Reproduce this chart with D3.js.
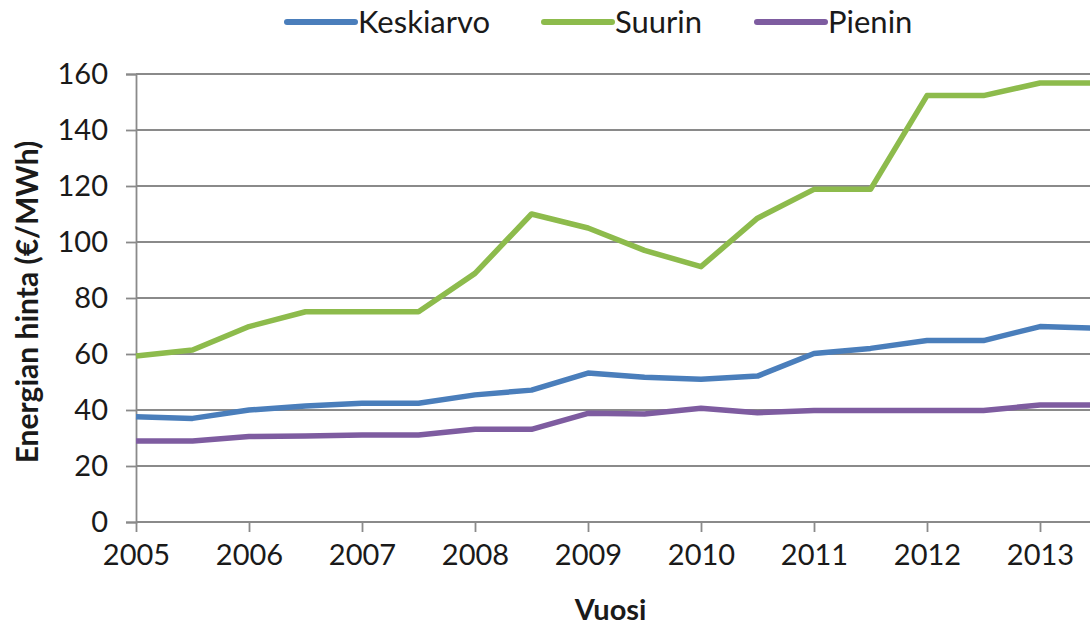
<!DOCTYPE html>
<html>
<head>
<meta charset="utf-8">
<script src="https://cdn.jsdelivr.net/npm/d3@7"></script>
<style>
  html, body { margin: 0; padding: 0; background: #fff; }
  svg { display: block; }
  text { font-family: Lato, "Open Sans", "Liberation Sans", sans-serif; fill: #1a1a1a; }
</style>
</head>
<body>
<svg id="chart" width="1090" height="629"></svg>
<script>
const years = [2005, 2005.5, 2006, 2006.5, 2007, 2007.5, 2008, 2008.5, 2009, 2009.5,
               2010, 2010.5, 2011, 2011.5, 2012, 2012.5, 2013, 2013.5];
const keskiarvo = [37.6, 37.0, 40.0, 41.4, 42.4, 42.4, 45.4, 47.1, 53.2, 51.7,
                   51.0, 52.1, 60.2, 62.0, 64.8, 64.8, 69.8, 69.2];
const suurin = [59.3, 61.4, 69.8, 75.1, 75.1, 75.1, 88.8, 110.0, 105.0, 97.0,
                91.2, 108.5, 118.8, 118.8, 152.3, 152.3, 156.8, 156.8];
const pienin = [28.9, 28.9, 30.5, 30.7, 31.1, 31.1, 33.1, 33.1, 38.8, 38.6,
                40.6, 39.0, 39.8, 39.8, 39.8, 39.8, 41.8, 41.8];
const xTicks = [2005, 2006, 2007, 2008, 2009, 2010, 2011, 2012, 2013];
const yTicks = [0, 20, 40, 60, 80, 100, 120, 140, 160];
const seriesNames = ["Keskiarvo", "Suurin", "Pienin"];
const seriesColors = ["#4a7ebb", "#8dbb4c", "#7e5ca0"];
const xTitle = "Vuosi";
const yTitle = "Energian hinta (€/MWh)";

const svg = d3.select("#chart");
const x = d3.scaleLinear().domain([2005, 2013]).range([136, 1040]);
const y = d3.scaleLinear().domain([0, 160]).range([522, 74]);
const plotRight = 1090;

// gridlines
svg.append("g").selectAll("line").data(yTicks.filter(d => d > 0)).join("line")
  .attr("x1", x(2005)).attr("x2", plotRight)
  .attr("y1", d => y(d)).attr("y2", d => y(d))
  .attr("stroke", "#8a8a8a").attr("stroke-width", 1.8);

// y axis
const yAxis = svg.append("g").attr("transform", `translate(${x(2005)},0)`)
  .call(d3.axisLeft(y).tickValues(yTicks).tickSize(10).tickPadding(18).tickFormat(d3.format("d")));
yAxis.select(".domain").attr("stroke", "#8a8a8a").attr("stroke-width", 1.8);
yAxis.selectAll(".tick line").attr("stroke", "#8a8a8a").attr("stroke-width", 1.8);
yAxis.selectAll(".tick text").attr("font-size", 29).attr("fill", "#1a1a1a")
  .attr("font-family", "Lato, 'Open Sans', sans-serif");

// x axis
const xAxis = svg.append("g").attr("transform", `translate(0,${y(0)})`)
  .call(d3.axisBottom(x).tickValues(xTicks).tickSize(10).tickPadding(12).tickFormat(d3.format("d")));
xAxis.select(".domain").remove();
xAxis.append("line").attr("x1", x(2005)).attr("x2", plotRight).attr("y1", 0).attr("y2", 0)
  .attr("stroke", "#8a8a8a").attr("stroke-width", 1.8);
xAxis.selectAll(".tick line").attr("stroke", "#8a8a8a").attr("stroke-width", 1.8);
xAxis.selectAll(".tick text").attr("font-size", 29).attr("fill", "#1a1a1a")
  .attr("font-family", "Lato, 'Open Sans', sans-serif");

// lines
const data = [keskiarvo, suurin, pienin];
const line = d3.line().x((d, i) => x(years[i])).y(d => y(d));
svg.append("g").selectAll("path").data(data).join("path")
  .attr("d", d => line(d))
  .attr("fill", "none")
  .attr("stroke", (d, i) => seriesColors[i])
  .attr("stroke-width", 5.5)
  .attr("stroke-linejoin", "round")
  .attr("stroke-linecap", "butt");

// legend
const legendX = [287, 544, 757];
const lg = svg.append("g").selectAll("g").data(seriesNames).join("g")
  .attr("transform", (d, i) => `translate(${legendX[i]},22)`);
lg.append("line").attr("x1", 0).attr("x2", 68).attr("y1", 0).attr("y2", 0)
  .attr("stroke", (d, i) => seriesColors[i]).attr("stroke-width", 6).attr("stroke-linecap", "round");
lg.append("text").attr("x", 71).attr("y", 11).attr("font-size", 31).text(d => d);

// axis titles
svg.append("text").attr("x", x(2009.2)).attr("y", 620).attr("text-anchor", "middle")
  .attr("font-size", 29).attr("font-weight", "bold").text(xTitle);
svg.append("text").attr("transform", "translate(38,302) rotate(-90)").attr("text-anchor", "middle")
  .attr("font-size", 30).attr("font-weight", "bold").text(yTitle);
</script>
</body>
</html>
